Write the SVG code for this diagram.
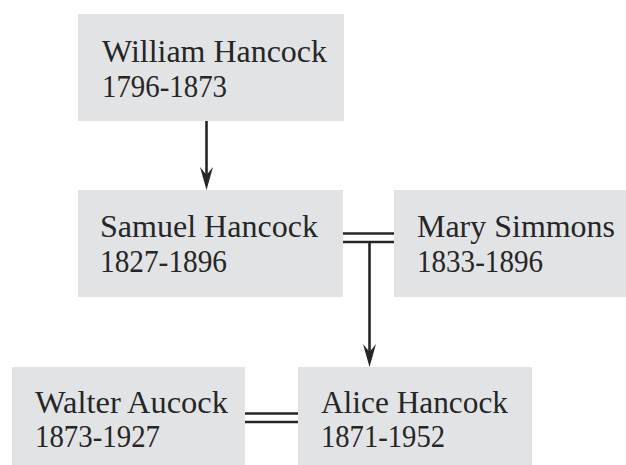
<svg xmlns="http://www.w3.org/2000/svg" width="626" height="465" viewBox="0 0 626 465">
<defs>
<style>
.box{fill:#e2e3e5}
.t{font-family:"Liberation Serif","Times New Roman",serif;font-size:31.5px;fill:#262626}
.ln{stroke:#262626;stroke-width:2.6;fill:none}
.ah{fill:#262626}
</style>
</defs>
<rect width="626" height="465" fill="#fff"/>
<g id="william">
<rect class="box" x="78" y="14" width="266" height="107"/>
<text class="t" x="102" y="62" textLength="225" lengthAdjust="spacingAndGlyphs">William Hancock</text>
<text class="t" x="102" y="97" textLength="125" lengthAdjust="spacingAndGlyphs">1796-1873</text>
</g>
<g id="samuel">
<rect class="box" x="78" y="190" width="265" height="107"/>
<text class="t" x="100" y="237" textLength="218" lengthAdjust="spacingAndGlyphs">Samuel Hancock</text>
<text class="t" x="100" y="272" textLength="127" lengthAdjust="spacingAndGlyphs">1827-1896</text>
</g>
<g id="mary">
<rect class="box" x="394" y="190" width="232" height="107"/>
<text class="t" x="417" y="237" textLength="198" lengthAdjust="spacingAndGlyphs">Mary Simmons</text>
<text class="t" x="417" y="272" textLength="126" lengthAdjust="spacingAndGlyphs">1833-1896</text>
</g>
<g id="walter">
<rect class="box" x="12" y="367" width="233" height="98"/>
<text class="t" x="35" y="413" textLength="193" lengthAdjust="spacingAndGlyphs">Walter Aucock</text>
<text class="t" x="35" y="447" textLength="125" lengthAdjust="spacingAndGlyphs">1873-1927</text>
</g>
<g id="alice">
<rect class="box" x="298" y="367" width="234" height="98"/>
<text class="t" x="321" y="413" textLength="187" lengthAdjust="spacingAndGlyphs">Alice Hancock</text>
<text class="t" x="321" y="447" textLength="124" lengthAdjust="spacingAndGlyphs">1871-1952</text>
</g>
<g id="connectors">
<line class="ln" x1="206.5" y1="121" x2="206.5" y2="178"/>
<path class="ah" d="M200,167 L206.5,175 L213,167 L206.5,190 Z"/>
<line class="ln" x1="343" y1="233.5" x2="394" y2="233.5"/>
<line class="ln" x1="343" y1="242" x2="394" y2="242"/>
<line class="ln" x1="369.5" y1="242" x2="369.5" y2="355"/>
<path class="ah" d="M363,344 L369.5,352 L376,344 L369.5,367 Z"/>
<line class="ln" x1="245" y1="413.5" x2="298" y2="413.5"/>
<line class="ln" x1="245" y1="422" x2="298" y2="422"/>
</g>
</svg>
